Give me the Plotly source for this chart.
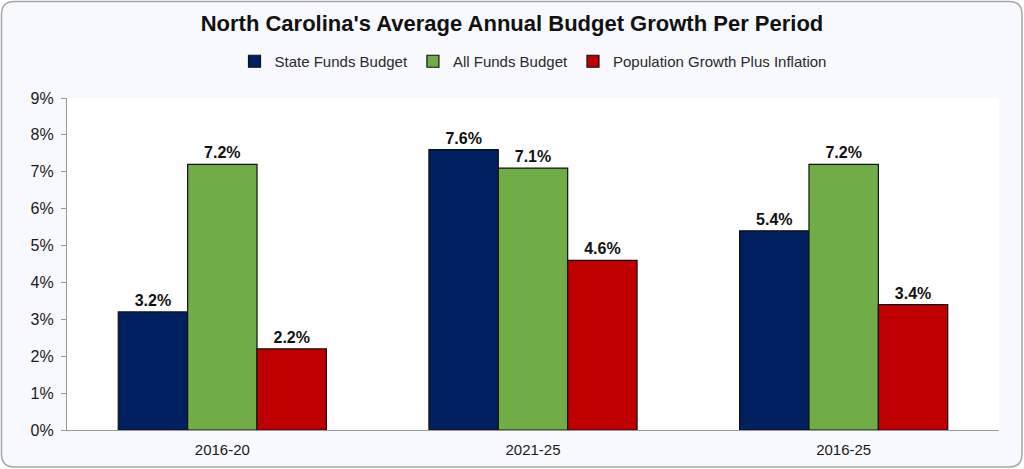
import plotly.graph_objects as go

# datos del grafico
periodos = ['2016-20', '2021-25', '2016-25']
state_funds = [3.2, 7.6, 5.4]
all_funds = [7.2, 7.1, 7.2]
pop_inflacion = [2.2, 4.6, 3.4]
y_ticks = [0, 1, 2, 3, 4, 5, 6, 7, 8, 9]
y_ticktext = ['%d%%' % t for t in y_ticks]

W, H = 1024, 469
ml, mr, mt, mb = 67, 25, 98, 39
pw, ph = W - ml - mr, H - mt - mb


def px_x(p):
    return (p - ml) / pw


def px_y(p):
    return (H - mb - p) / ph


def rounded_rect(x0, y0, x1, y1, r):
    # caja con esquinas redondeadas, en pixeles -> coordenadas paper
    pts = [
        ('M', x0 + r, y0), ('L', x1 - r, y0), ('Q', x1, y0, x1, y0 + r),
        ('L', x1, y1 - r), ('Q', x1, y1, x1 - r, y1), ('L', x0 + r, y1),
        ('Q', x0, y1, x0, y1 - r), ('L', x0, y0 + r), ('Q', x0, y0, x0 + r, y0),
    ]
    out = []
    for p in pts:
        cmd, nums = p[0], p[1:]
        coords = []
        for i in range(0, len(nums), 2):
            coords.append('%.5f,%.5f' % (px_x(nums[i]), px_y(nums[i + 1])))
        out.append(cmd + ' '.join(coords))
    return ' '.join(out) + ' Z'


series = [
    ('State Funds Budget', state_funds, '#002060'),
    ('All Funds Budget', all_funds, '#70AD47'),
    ('Population Growth Plus Inflation', pop_inflacion, '#C00000'),
]

fig = go.Figure()
for nombre, vals, color in series:
    fig.add_trace(go.Bar(
        x=periodos, y=vals, name=nombre,
        marker=dict(color=color, line=dict(color='#111111', width=1.2)),
        text=['%.1f%%' % v for v in vals],
        textposition='outside',
        textfont=dict(family='Liberation Sans, Arial', size=16, color='#111111', weight='bold'),
        cliponaxis=False,
        hovertemplate='%{x}: %{y:.1f}%<extra>' + nombre + '</extra>',
    ))

fig.update_layout(
    width=W, height=H,
    margin=dict(l=ml, r=mr, t=mt, b=mb),
    paper_bgcolor='white',
    plot_bgcolor='rgba(0,0,0,0)',
    font=dict(family='Liberation Sans, Arial', size=15, color='#222222'),
    title=dict(
        text="<b>North Carolina's Average Annual Budget Growth Per Period</b>",
        x=0.5, xanchor='center', y=0.95, yanchor='middle',
        font=dict(size=22, color='#111111'),
    ),
    legend=dict(
        orientation='h', x=0.5, xanchor='center', y=1.11, yanchor='middle',
        font=dict(size=15, color='#2a2a2a'), bgcolor='rgba(0,0,0,0)',
        itemwidth=30, traceorder='normal',
    ),
    barmode='group', bargap=0.33, bargroupgap=0,
    showlegend=True,
    shapes=[
        dict(type='path', xref='paper', yref='paper',
             path=rounded_rect(1.5, 1.5, 1022, 467, 13),
             fillcolor='#F8F9FE', line=dict(color='#A6A6A6', width=1.5),
             layer='below'),
        dict(type='rect', xref='paper', yref='paper', x0=0, x1=1, y0=0, y1=1,
             fillcolor='white', line=dict(width=0), layer='below'),
    ],
)

fig.update_xaxes(
    showline=True, linecolor='#999999', linewidth=1.2,
    ticks='', showgrid=False, ticklabelstandoff=6,
    tickfont=dict(size=15, color='#1a1a1a'),
)
fig.update_yaxes(
    range=[0, 9], tickvals=y_ticks, ticktext=y_ticktext,
    showline=True, linecolor='#999999', linewidth=1.2,
    ticks='outside', ticklen=5, tickcolor='#999999', ticklabelstandoff=4,
    showgrid=False, zeroline=False, tickfont=dict(size=16, color='#1a1a1a'),
)

# quitar el margen del body para que el grafico ocupe toda la ventana
fig.write_html("out.html", config={'displayModeBar': False},
               post_script="document.body.style.margin='0';")
